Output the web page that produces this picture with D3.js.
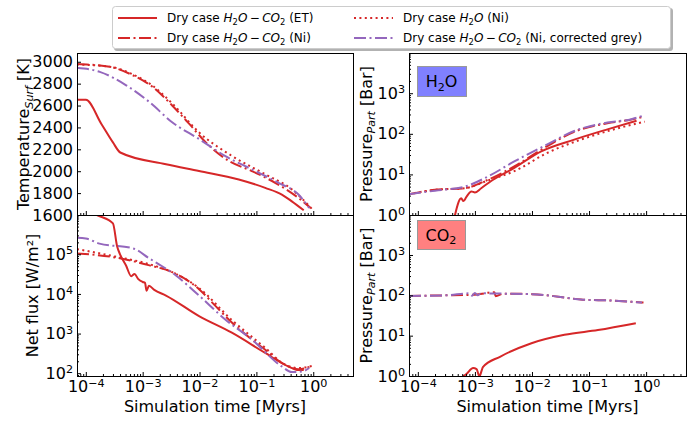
<!DOCTYPE html>
<html>
<head>
<meta charset="utf-8">
<script src="https://cdn.jsdelivr.net/npm/d3@7"></script>
<style>
  body { margin: 0; background: #fff; }
  svg { font-family: "DejaVu Sans", sans-serif; }
</style>
</head>
<body>
<svg id="chart" width="697" height="421"></svg>
<script>
// [time in Myrs, value]

// surface temperature [K]
var tempET = [[7e-5, 2653], [1e-4, 2653], [1.88e-4, 2432], [3e-4, 2263], [4.04e-4, 2171], [2.57e-3, 2064],
  [9.8e-3, 2002], [4.9e-2, 1925], [0.143, 1848], [0.28, 1787], [0.42, 1725], [0.68, 1643]];
var tempNi = [[7e-5, 2979], [2.63e-4, 2954], [6.68e-4, 2877], [1.5e-3, 2770], [3.3e-3, 2601], [6.6e-3, 2432],
  [1.29e-2, 2263], [3.27e-2, 2094], [8.3e-2, 2002], [0.214, 1894], [0.55, 1756], [0.9, 1664]];
var tempNiH2O = [[7e-5, 2975], [2.63e-4, 2955], [6.68e-4, 2885], [1.5e-3, 2780], [3.3e-3, 2620], [9.8e-3, 2355],
  [3.7e-2, 2140], [0.143, 1972], [0.42, 1834], [0.95, 1655]];
var tempGrey = [[7e-5, 2945], [1.76e-4, 2908], [5.13e-4, 2785], [1.32e-3, 2631], [3.3e-3, 2447], [9.8e-3, 2294],
  [2.8e-2, 2140], [8.3e-2, 2017], [0.245, 1894], [0.55, 1787], [0.85, 1664]];

// net flux [W/m2]
var fluxET = [[7e-5, 1.26e6], [1.76e-4, 9.1e5], [3e-4, 6.0e5], [3.55e-4, 1.6e5], [4e-4, 1.0e5], [5.1e-4, 5.2e4],
  [6.3e-4, 2.8e4], [7.2e-4, 3.2e4], [8.3e-4, 2.4e4], [1e-3, 2.0e4], [1.1e-3, 1.9e4], [1.17e-3, 1.2e4],
  [1.29e-3, 1.6e4], [1.6e-3, 1.26e4], [2.57e-3, 9.1e3], [9.8e-3, 2.75e3], [3.7e-2, 1.05e3], [0.143, 324],
  [0.363, 148], [0.55, 120], [0.68, 120]];
var fluxNi = [[7e-5, 1.05e5], [3e-4, 8.5e4], [1.32e-3, 5.25e4], [3.3e-3, 3.55e4], [9.8e-3, 1.32e4], [1.9e-2, 5.0e3],
  [3.7e-2, 1.9e3], [8.3e-2, 710], [0.143, 390], [0.28, 182], [0.55, 126], [0.9, 148]];
var fluxNiH2O = [[7e-5, 1.35e5], [3.16e-4, 8.9e4], [1.32e-3, 5.6e4], [3.3e-3, 3.55e4], [9.8e-3, 1.4e4],
  [3.7e-2, 2.2e3], [0.143, 436], [0.316, 166], [0.55, 135], [1.0, 155]];
var fluxGrey = [[7e-5, 2.6e5], [1e-4, 2.5e5], [1.74e-4, 1.86e5], [6.76e-4, 1.41e5], [1.32e-3, 7.8e4], [3.8e-3, 2.95e4],
  [9.8e-3, 9.1e3], [2.8e-2, 2.3e3], [8.3e-2, 710], [0.28, 148], [0.42, 107], [0.63, 110], [0.85, 135]];

// H2O partial pressure [bar]
var h2oET = [[4.4e-4, 0.9], [5.75e-4, 2.57], [6.3e-4, 2.2], [7.1e-4, 2.8], [8.7e-4, 3.8], [1e-3, 3.6], [1.29e-3, 4.57],
  [1.9e-3, 6.8], [4.9e-3, 14.5], [1.45e-2, 37], [5.5e-2, 72], [0.21, 129], [0.68, 209]];
var h2oNi = [[7e-5, 3.24], [2e-4, 4.17], [6.6e-4, 4.57], [1.7e-3, 7.4], [4.9e-3, 15.8], [1.86e-2, 50],
  [5.5e-2, 112], [0.21, 182], [0.55, 224], [0.9, 263]];
var h2oNiH2O = [[7e-5, 3.24], [2e-4, 4.17], [6.6e-4, 4.57], [1.7e-3, 7.1], [4.9e-3, 12], [1.86e-2, 34],
  [7.2e-2, 72], [0.275, 129], [0.95, 200]];
var h2oGrey = [[7e-5, 3.24], [2e-4, 3.98], [6.6e-4, 5.0], [1.7e-3, 8.9], [4.9e-3, 20.9], [1.86e-2, 55],
  [5.5e-2, 117], [0.21, 190], [0.55, 229], [0.85, 275]];

// CO2 partial pressure [bar]
var co2ET = [[5.6e-4, 0.89], [7.1e-4, 1.12], [9.3e-4, 1.58], [1.07e-3, 1.48], [1.2e-3, 0.98], [1.32e-3, 1.4],
  [1.38e-3, 1.66], [2.75e-3, 3.0], [9.8e-3, 6.5], [3.7e-2, 10.5], [0.143, 13.8], [0.66, 20.4]];
var co2Ni = [[7e-5, 96.6], [3.16e-4, 100], [1e-3, 104], [2.2e-3, 120], [2.3e-3, 95], [3.16e-3, 110], [1e-2, 107],
  [3.16e-2, 91], [7.2e-2, 79], [0.25, 74], [0.9, 66]];
var co2Grey = [[7e-5, 96.6], [3.16e-4, 100], [7.9e-4, 112], [8.9e-4, 98], [1e-3, 115], [1.12e-3, 100],
  [1.26e-3, 112], [3.16e-3, 110], [1e-2, 107], [3.16e-2, 91], [7.2e-2, 79], [0.25, 74], [0.85, 66]];

var timeTicks = [1e-4, 1e-3, 1e-2, 1e-1, 1];
var tempTicks = [1600, 1800, 2000, 2200, 2400, 2600, 2800, 3000];
var fluxTicks = [1e2, 1e3, 1e4, 1e5];
var presTicks = [1, 10, 100, 1000];

var svg = d3.select('#chart');
var red = '#d62728', purple = '#9467bd';
var DASHDOT = '12,3.5,2,3.5', DOTS = '2,3.4';

var styles = {
  et: {color: red, dash: null},
  ni: {color: red, dash: DASHDOT},
  niH2O: {color: red, dash: DOTS},
  grey: {color: purple, dash: DASHDOT}
};

var timeDomain = [7e-5, 5];

function logMinors(domain) {
  var out = [];
  for (var e = Math.floor(Math.log10(domain[0])); e <= Math.ceil(Math.log10(domain[1])); e++) {
    for (var m = 2; m <= 9; m++) {
      var v = m * Math.pow(10, e);
      if (v >= domain[0] && v <= domain[1]) out.push(v);
    }
  }
  return out;
}

function expLabels(g) {
  g.selectAll('.tick text').each(function(d) {
    var e = Math.round(Math.log10(d));
    var t = d3.select(this).text('');
    t.append('tspan').text('10');
    t.append('tspan').attr('dy', '-0.5em').attr('font-size', '0.7em')
      .text(e < 0 ? '\u2212' + (-e) : e);
  });
}

// parts: [text, 'i' | 'sub' | 'isub' | '']
function rich(sel, parts, fs) {
  var cur = 0;
  parts.forEach(function(p) {
    var sub = p[1] == 'sub' || p[1] == 'isub';
    var sh = sub ? 0.24 * fs : 0;
    var t = sel.append('tspan').text(p[0]).attr('dy', sh - cur);
    cur = sh;
    if (sub) t.attr('font-size', 0.7 * fs);
    if (p[1] == 'i' || p[1] == 'isub') t.attr('font-style', 'italic');
  });
}

var panels = [
  {name: 'temp', x0: 77, x1: 353, y0: 53, y1: 215, y: d3.scaleLinear().domain([1600, 3080]),
   ticks: tempTicks, log: false, xlabels: false,
   series: [[tempET, 'et'], [tempNi, 'ni'], [tempNiH2O, 'niH2O'], [tempGrey, 'grey']]},
  {name: 'flux', x0: 77, x1: 353, y0: 215, y1: 376, y: d3.scaleLog().domain([85, 9.8e5]),
   ticks: fluxTicks, log: true, xlabels: true,
   series: [[fluxET, 'et'], [fluxNi, 'ni'], [fluxNiH2O, 'niH2O'], [fluxGrey, 'grey']]},
  {name: 'h2o', x0: 409, x1: 686, y0: 53, y1: 215, y: d3.scaleLog().domain([1, 9.8e3]),
   ticks: presTicks, log: true, xlabels: false,
   series: [[h2oET, 'et'], [h2oNi, 'ni'], [h2oNiH2O, 'niH2O'], [h2oGrey, 'grey']]},
  {name: 'co2', x0: 409, x1: 686, y0: 215, y1: 376, y: d3.scaleLog().domain([1, 9.8e3]),
   ticks: presTicks, log: true, xlabels: true,
   series: [[co2ET, 'et'], [co2Ni, 'ni'], [co2Grey, 'grey']]}
];

panels.forEach(function(p) {
  var x = d3.scaleLog().domain(timeDomain).range([p.x0, p.x1]);
  var y = p.y.range([p.y1, p.y0]);

  svg.append('clipPath').attr('id', 'clip-' + p.name)
    .append('rect')
    .attr('x', p.x0).attr('y', p.y0)
    .attr('width', p.x1 - p.x0).attr('height', p.y1 - p.y0);

  var lines = svg.append('g').attr('clip-path', 'url(#clip-' + p.name + ')');
  var line = d3.line()
    .x(function(d) { return x(d[0]); })
    .y(function(d) { return y(d[1]); })
    .curve(d3.curveMonotoneX);

  p.series.forEach(function(s) {
    var st = styles[s[1]];
    lines.append('path')
      .datum(s[0])
      .attr('d', line)
      .attr('fill', 'none')
      .attr('stroke', st.color)
      .attr('stroke-width', 2)
      .attr('stroke-dasharray', st.dash);
  });

  // y axis, ticks pointing in
  var ya = svg.append('g')
    .attr('transform', 'translate(' + p.x0 + ',0)')
    .call(d3.axisLeft(y).tickValues(p.ticks).tickSizeInner(-4).tickSizeOuter(0).tickPadding(4)
      .tickFormat(p.log ? function(d) { return d; } : d3.format('d')));
  ya.select('.domain').remove();
  ya.attr('font-size', 16).attr('font-family', null);
  ya.selectAll('.tick text').attr('fill', '#000');
  if (p.log) {
    expLabels(ya);
    var ym = svg.append('g')
      .attr('transform', 'translate(' + p.x0 + ',0)')
      .call(d3.axisLeft(y).tickValues(logMinors(y.domain())).tickSizeInner(-2).tickSizeOuter(0).tickFormat(''));
    ym.select('.domain').remove();
  }

  // x axis
  var xa = svg.append('g')
    .attr('transform', 'translate(0,' + p.y1 + ')')
    .call(d3.axisBottom(x).tickValues(timeTicks).tickSizeInner(-4).tickSizeOuter(0).tickPadding(5)
      .tickFormat(function(d) { return d; }));
  xa.select('.domain').remove();
  xa.attr('font-size', 16).attr('font-family', null);
  xa.selectAll('.tick text').attr('fill', '#000');
  if (p.xlabels) expLabels(xa); else xa.selectAll('.tick text').remove();
  var xm = svg.append('g')
    .attr('transform', 'translate(0,' + p.y1 + ')')
    .call(d3.axisBottom(x).tickValues(logMinors(timeDomain)).tickSizeInner(-2).tickSizeOuter(0).tickFormat(''));
  xm.select('.domain').remove();

  svg.append('rect')
    .attr('x', p.x0 + 0.5).attr('y', p.y0 + 0.5)
    .attr('width', p.x1 - p.x0).attr('height', p.y1 - p.y0)
    .attr('fill', 'none').attr('stroke', '#000').attr('stroke-width', 1);

  if (p.xlabels) {
    svg.append('text')
      .attr('x', (p.x0 + p.x1) / 2).attr('y', 412)
      .attr('text-anchor', 'middle').attr('font-size', 16)
      .text('Simulation time [Myrs]');
  }
});

// y axis titles
function yTitle(xpos, ycen, parts) {
  var t = svg.append('text')
    .attr('transform', 'translate(' + xpos + ',' + ycen + ') rotate(-90)')
    .attr('text-anchor', 'middle').attr('font-size', 16);
  rich(t, parts, 16);
}
yTitle(29, 134, [['Temperature', ''], ['Surf', 'isub'], [' [K]', '']]);
yTitle(38, 295.5, [['Net flux [W/m\u00b2]', '']]);
yTitle(371.5, 134, [['Pressure', ''], ['Part', 'isub'], [' [Bar]', '']]);
yTitle(371.5, 295.5, [['Pressure', ''], ['Part', 'isub'], [' [Bar]', '']]);

// species boxes
function speciesBox(x0, y0, w, h, fill, name) {
  svg.append('rect').attr('x', x0 + 0.5).attr('y', y0 + 0.5).attr('width', w).attr('height', h)
    .attr('fill', fill).attr('stroke', '#999');
  var t = svg.append('text').attr('x', x0 + w / 2).attr('y', y0 + h / 2 + 6)
    .attr('text-anchor', 'middle').attr('font-size', 16);
  rich(t, [[name, ''], ['2', 'sub'], [name == 'H' ? 'O' : '', '']], 16);
}
speciesBox(417, 66, 49, 30, '#8080ff', 'H');
speciesBox(417, 220, 48, 29, '#ff8080', 'CO');

// legend
var legend = svg.append('g');
legend.append('rect').attr('x', 114).attr('y', 8).attr('width', 559).attr('height', 43)
  .attr('rx', 3).attr('fill', '#000').attr('opacity', 0.3);
legend.append('rect').attr('x', 112.5).attr('y', 6.5).attr('width', 558).attr('height', 42)
  .attr('rx', 3).attr('fill', '#fff').attr('stroke', '#ccc');

var legendItems = [
  {style: 'et', col: 0, row: 0, label: [['Dry case ', ''], ['H', 'i'], ['2', 'sub'], ['O', 'i'], ['\u2009\u2212\u2009', ''], ['CO', 'i'], ['2', 'sub'], [' (ET)', '']]},
  {style: 'ni', col: 0, row: 1, label: [['Dry case ', ''], ['H', 'i'], ['2', 'sub'], ['O', 'i'], ['\u2009\u2212\u2009', ''], ['CO', 'i'], ['2', 'sub'], [' (Ni)', '']]},
  {style: 'niH2O', col: 1, row: 0, label: [['Dry case ', ''], ['H', 'i'], ['2', 'sub'], ['O', 'i'], [' (Ni)', '']]},
  {style: 'grey', col: 1, row: 1, label: [['Dry case ', ''], ['H', 'i'], ['2', 'sub'], ['O', 'i'], ['\u2009\u2212\u2009', ''], ['CO', 'i'], ['2', 'sub'], [' (Ni, corrected grey)', '']]}
];
var colX = [118, 354], rowY = [18, 38];

legendItems.forEach(function(it) {
  var st = styles[it.style];
  var lx = colX[it.col], ly = rowY[it.row];
  legend.append('line')
    .attr('x1', lx).attr('x2', lx + 39).attr('y1', ly).attr('y2', ly)
    .attr('stroke', st.color).attr('stroke-width', 2).attr('stroke-dasharray', st.dash);
  var t = legend.append('text').attr('x', lx + 49).attr('y', ly + 4.4).attr('font-size', 12);
  rich(t, it.label, 12);
});
</script>
</body>
</html>
